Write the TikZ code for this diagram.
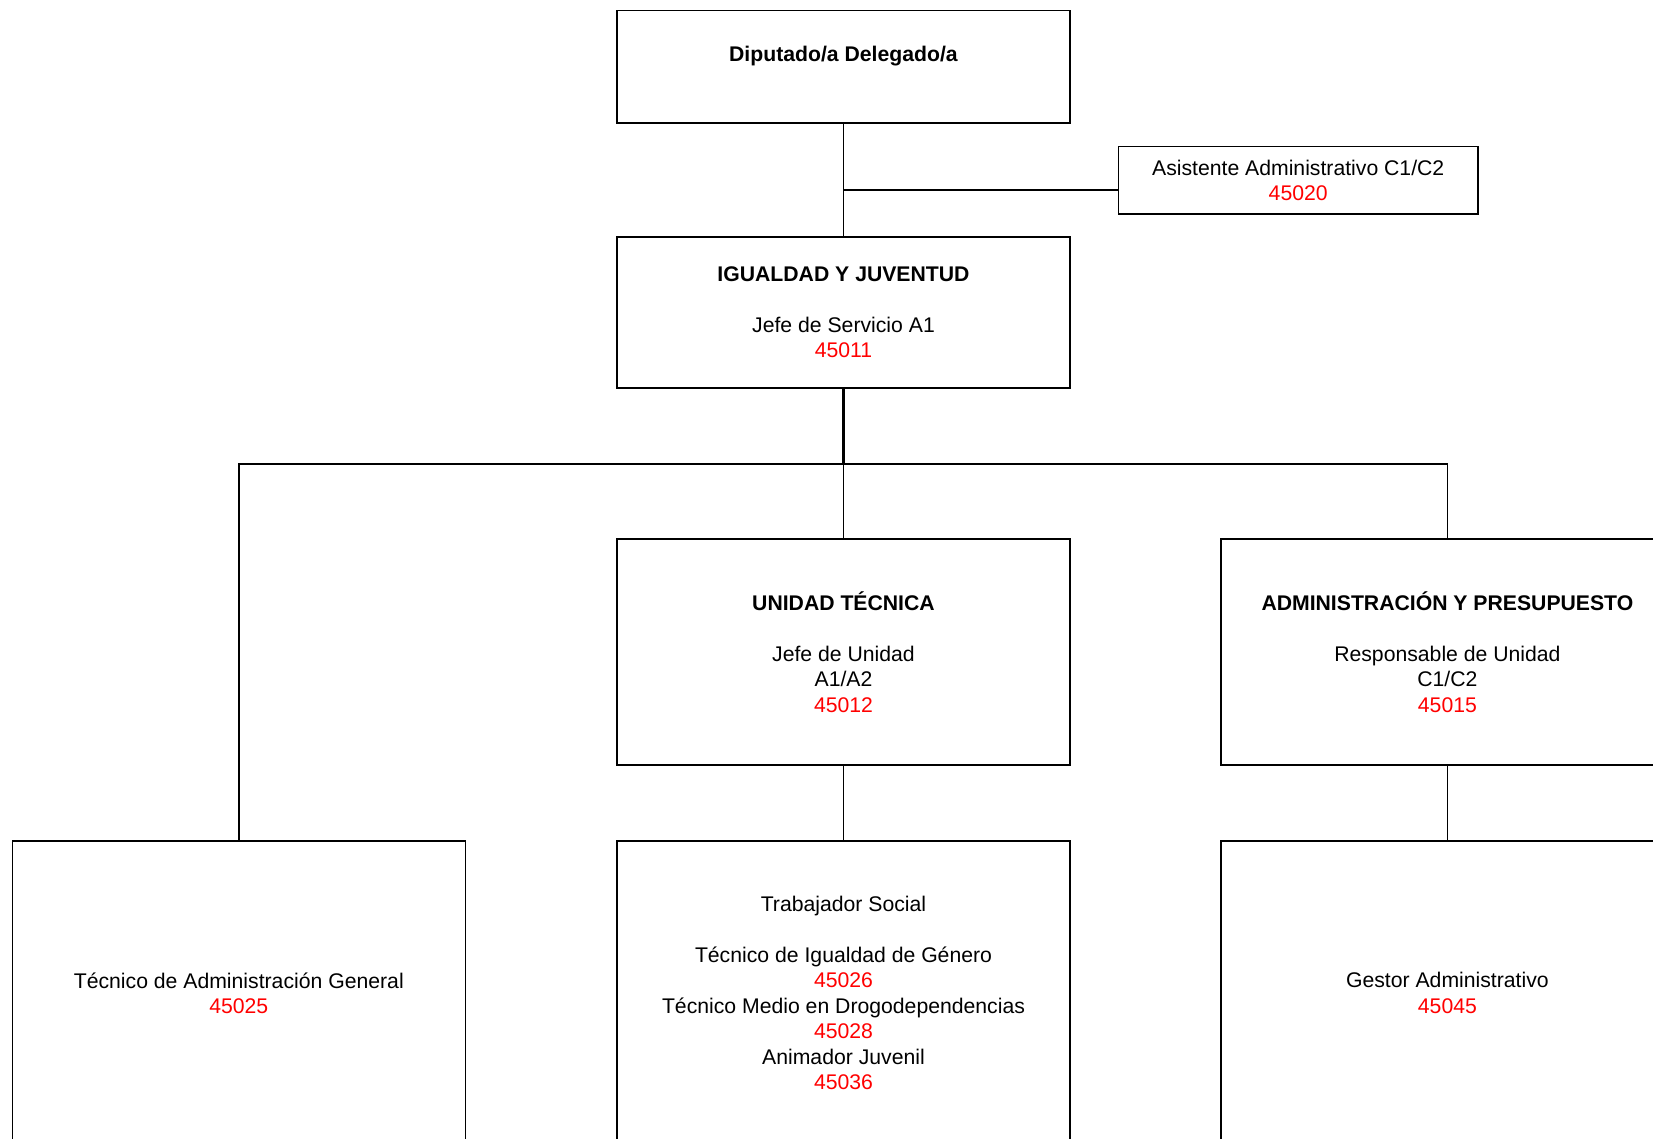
\documentclass[tikz,border=0pt]{standalone}
\usepackage{fontspec}
\setmainfont{Liberation Sans}
\definecolor{codered}{RGB}{255,0,0}
\newcommand{\cod}[1]{\textcolor{codered}{#1}}
\tikzset{
  box/.style={draw, line width=0.8pt, align=center, inner sep=0pt,
    font=\fontsize{10.6}{12.7}\selectfont, minimum width=226.5pt},
  link/.style={line width=0.8pt},
  thicklink/.style={line width=1.3pt}
}
\begin{document}
\begin{tikzpicture}[x=0.5pt,y=-0.5pt]
\path[use as bounding box, clip] (0,0) rectangle (1653,1139);
\fill[white] (0,0) rectangle (1653,1139);
% boxes
\node[box, minimum height=56.25pt] (dip) at (843.5,66.75) {\textbf{Diputado/a Delegado/a}\\\mbox{}};
\node[box, minimum width=179.75pt, minimum height=33.75pt] (asis) at (1298.2,180.3) {Asistente Administrativo C1/C2\\\cod{45020}};
\node[box, minimum height=75.5pt] (igu) at (843.5,312.5) {\textbf{IGUALDAD Y JUVENTUD}\\[12.7pt]Jefe de Servicio A1\\\cod{45011}};
\node[box, minimum height=113pt] (uni) at (843.5,652) {\textbf{UNIDAD TÉCNICA}\\[12.7pt]Jefe de Unidad\\A1/A2\\\cod{45012}};
\node[box, minimum height=113pt] (adm) at (1447.4,652) {\textbf{ADMINISTRACIÓN Y PRESUPUESTO}\\[12.7pt]Responsable de Unidad\\C1/C2\\\cod{45015}};
\node[box, minimum height=152pt] (bl) at (238.8,993) {Técnico de Administración General\\\cod{45025}};
\node[box, minimum height=152pt] (bm) at (843.5,993) {Trabajador Social\\[12.7pt]Técnico de Igualdad de Género\\\cod{45026}\\Técnico Medio en Drogodependencias\\\cod{45028}\\Animador Juvenil\\\cod{45036}};
\node[box, minimum height=152pt] (br) at (1447.4,993) {Gestor Administrativo\\\cod{45045}};
% connectors
\coordinate (j) at (843.5,190);
\coordinate (bus) at (843.5,464);
\draw[link] (dip.south) -- (igu.north);
\draw[link] (j) -- (j -| asis.west);
\draw[thicklink] (igu.south) -- (bus);
\draw[link] (bus) -- (uni.north);
\draw[link] (bl.north) -- (bl.north |- bus) -- (adm.north |- bus) -- (adm.north);
\draw[link] (uni.south) -- (bm.north);
\draw[link] (adm.south) -- (br.north);
\end{tikzpicture}
\end{document}
